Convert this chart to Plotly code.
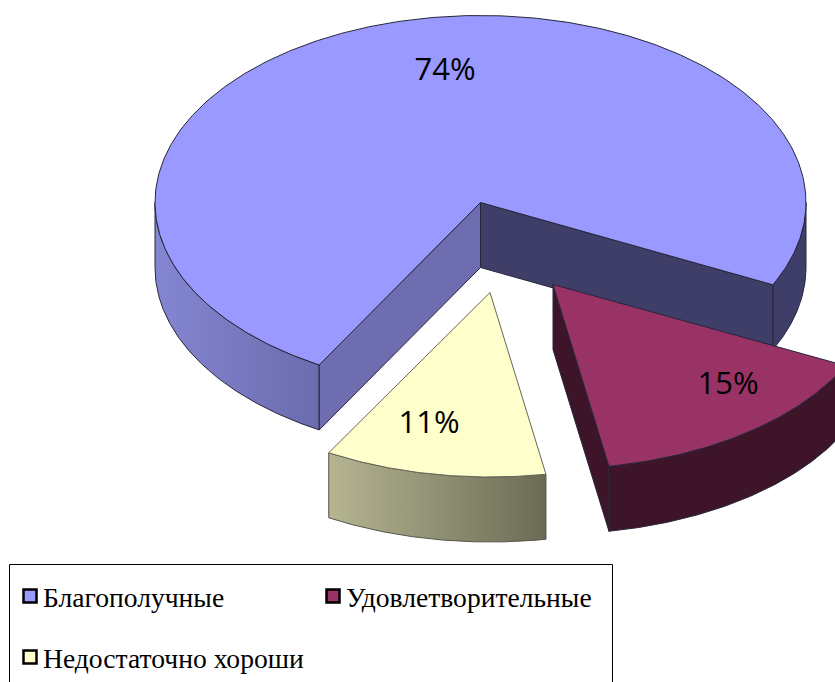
import numpy as np
import plotly.graph_objects as go

categories = ["Благополучные", "Удовлетворительные", "Недостаточно хороши"]
values = [74, 15, 11]
labels = ["74%", "15%", "11%"]

# --- style and layout constants (pixel space of an 835x682 page) ---
W, H = 835, 682
RX, RY, DEPTH = 325.5, 187.0, 65.0
RY_OUT = 184.5             # the pulled-out slices are drawn slightly flatter
START = 119.7              # degrees, clockwise on screen from the right, start of first slice
APEX = [(480.5, 202.5), (553, 284.5), (490, 292.5)]
TOPS = ["#9999ff", "#993366", "#ffffcc"]
EDGE = "#26263a"
LABEL_XY = [(445, 72), (728, 386), (429, 425)]
LEGEND_XY = [(30, 596), (333, 596), (30, 657)]

total = sum(values)
spans = [v / total * 360 for v in values]
# slices run clockwise: large slice first, then the maroon and yellow ones
ends = [START + sum(spans[:i + 1]) for i in range(len(values))]
starts = [e - s for e, s in zip(ends, spans)]


def arc(apex, a0, a1, n=120, ry=RY):
    t = np.radians(np.linspace(a0, a1, n))
    return apex[0] + RX * np.cos(t), apex[1] + ry * np.sin(t)


fig = go.Figure()


def poly(x, y, color=None, grad=None, line=EDGE):
    x = list(x) + [x[0]]
    y = list(y) + [y[0]]
    kw = dict(fillgradient=grad) if grad else dict(fillcolor=color)
    fig.add_trace(go.Scatter(x=x, y=y, mode="lines", fill="toself",
                             line=dict(color=line, width=1), hoverinfo="skip",
                             showlegend=False, **kw))


def outer_side(apex, a0, a1, ry=RY, **kw):
    ax, ay = arc(apex, a0, a1, ry=ry)
    poly(list(ax) + list(ax[::-1]), list(ay) + list(ay[::-1] + DEPTH), **kw)


def radial_side(apex, angle, color, ry=RY):
    ex, ey = arc(apex, angle, angle, 1, ry=ry)
    poly([apex[0], ex[0], ex[0], apex[0]],
         [apex[1], ey[0], ey[0] + DEPTH, apex[1] + DEPTH], color=color)


def grad(c0, c1):
    return dict(type="horizontal", colorscale=[[0, c0], [1, c1]])


# Slice 1 (large): wraps through the back of the pie
a0, a1 = starts[0], ends[0]
outer_side(APEX[0], a0, 180, grad=grad("#8486d2", "#6b6bad"))
outer_side(APEX[0], 360, a1, color="#3e3e68")
radial_side(APEX[0], a1, "#3e3e68")
radial_side(APEX[0], a0, "#6d6db0")
ax, ay = arc(APEX[0], a0, a1, 400)
poly([APEX[0][0]] + list(ax), [APEX[0][1]] + list(ay), color=TOPS[0])

# Slice 2
a0, a1 = ends[0] - 360, ends[1] - 360
radial_side(APEX[1], a1, "#3d1428", ry=RY_OUT)
outer_side(APEX[1], a0, a1, ry=RY_OUT, color="#3d1428")
ax, ay = arc(APEX[1], a0, a1, ry=RY_OUT)
poly([APEX[1][0]] + list(ax), [APEX[1][1]] + list(ay), color=TOPS[1])

# Slice 3
a0, a1 = ends[1] - 360, ends[2] - 360
outer_side(APEX[2], a0, a1, ry=RY_OUT, grad=grad("#b5b592", "#6b6b55"), line="#55554a")
ax, ay = arc(APEX[2], a0, a1, ry=RY_OUT)
poly([APEX[2][0]] + list(ax), [APEX[2][1]] + list(ay), color=TOPS[2], line="#66665a")

# Value labels
fig.add_trace(go.Scatter(
    x=[p[0] for p in LABEL_XY], y=[p[1] for p in LABEL_XY], mode="text", text=labels,
    textposition="middle center", showlegend=False, hoverinfo="skip",
    textfont=dict(family="Open Sans", size=31, color="#000000")))

# Legend
fig.add_shape(type="rect", x0=9.5, y0=564.5, x1=612.5, y1=700, line=dict(color="#000000", width=1),
              fillcolor="rgba(0,0,0,0)", layer="above")
for name, color, (lx, ly) in zip(categories, TOPS, LEGEND_XY):
    fig.add_trace(go.Scatter(x=[lx], y=[ly], mode="markers", showlegend=False, hoverinfo="skip",
                             marker=dict(symbol="square", size=13, color=color,
                                         line=dict(color="#000000", width=2.5))))
    fig.add_annotation(x=lx + 11, y=ly + 1, text=name, showarrow=False, xanchor="left", yanchor="middle",
                       font=dict(family="Liberation Serif", size=27.6, color="#000000"))

fig.update_layout(
    width=W, height=H, margin=dict(l=0, r=0, t=0, b=0),
    paper_bgcolor="#ffffff", plot_bgcolor="#ffffff",
    xaxis=dict(range=[0, W], visible=False, fixedrange=True),
    yaxis=dict(range=[H, 0], visible=False, fixedrange=True),
    showlegend=False,
)
fig.write_html("out.html", config=dict(displayModeBar=False),
               post_script="document.body.style.margin='0';document.documentElement.style.overflow='hidden';")
